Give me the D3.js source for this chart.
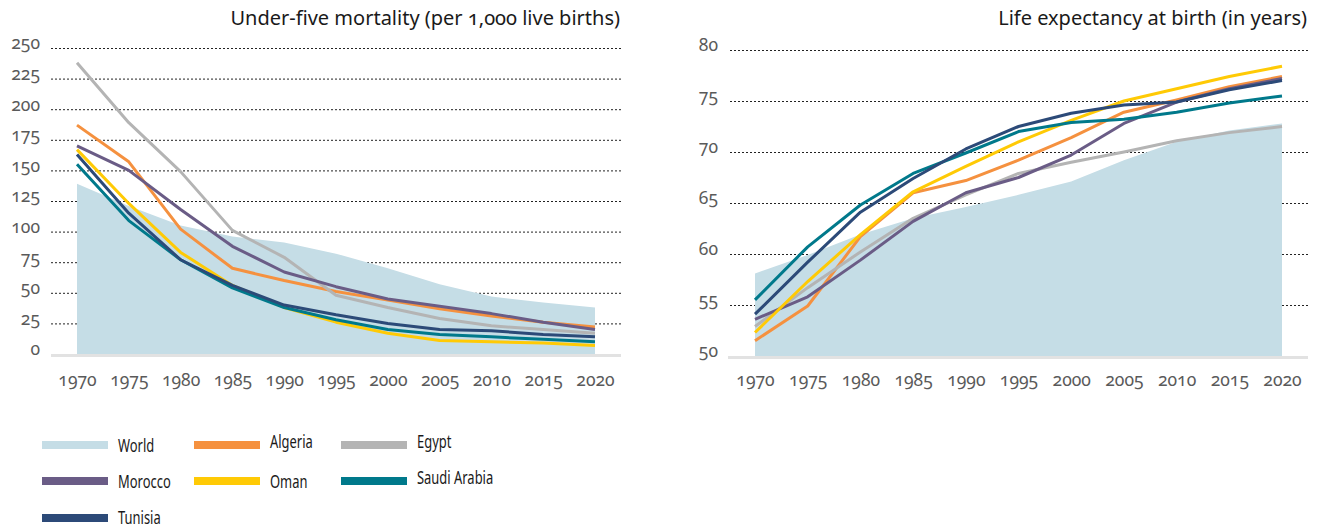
<!DOCTYPE html>
<html>
<head>
<meta charset="utf-8">
<script src="https://cdn.jsdelivr.net/npm/d3@7"></script>
<style>
  body { margin: 0; background: #fff; }
  svg { display: block; font-family: "Noto Sans", "Open Sans", sans-serif; }
  .tick text { fill: #5a5a5a; font-family: "Noto Sans", sans-serif; font-size: 17.5px; font-variant-numeric: oldstyle-nums; font-feature-settings: "onum" 1; }
  .title { fill: #1a1a1a; font-size: 20px; font-variant-numeric: oldstyle-nums; font-feature-settings: "onum" 1; }
  .legend text { fill: #1a1a1a; font-size: 18.5px; font-family: "Noto Sans", sans-serif; }
</style>
</head>
<body>
<div id="chart"></div>
<script>
// years on both panels
const years = [1970, 1975, 1980, 1985, 1990, 1995, 2000, 2005, 2010, 2015, 2020];

// under-five mortality, per 1,000 live births
const u5World   = [139, 121, 105, 96, 91, 82, 70, 57, 47, 42, 38];
const u5Algeria = [187, 157, 102, 70, 60, 51, 44, 37, 31, 26, 22];
const u5Egypt   = [238, 189, 149, 101, 79, 48, 38, 29, 23, 20, 17];
const u5Morocco = [170, 150, 118, 88, 67, 55, 45, 39, 33, 26, 20];
const u5Oman    = [167, 123, 83, 56, 38, 26, 17, 11, 10, 9, 7];
const u5Saudi   = [155, 109, 77, 54, 38, 28, 20, 16, 14, 12, 10];
const u5Tunisia = [163, 115, 77, 56, 40, 32, 25, 20, 19, 16, 14];

// life expectancy at birth, years
const leWorld   = [58.1, 59.9, 61.9, 63.5, 64.6, 65.8, 67.1, 69.2, 71.0, 72.1, 72.8];
const leAlgeria = [51.5, 54.9, 61.7, 66.0, 67.2, 69.2, 71.4, 73.9, 75.1, 76.4, 77.4];
const leEgypt   = [52.9, 56.7, 60.2, 63.5, 65.8, 67.9, 69.0, 70.0, 71.1, 71.9, 72.5];
const leMorocco = [53.6, 55.8, 59.4, 63.2, 66.0, 67.5, 69.7, 72.8, 74.9, 76.2, 77.2];
const leOman    = [52.3, 57.3, 61.9, 66.1, 68.6, 71.0, 73.1, 75.0, 76.2, 77.4, 78.4];
const leSaudi   = [55.5, 60.7, 64.8, 67.9, 69.9, 72.0, 72.9, 73.2, 73.9, 74.8, 75.5];
const leTunisia = [54.1, 59.2, 64.1, 67.4, 70.3, 72.5, 73.8, 74.6, 74.9, 76.1, 77.0];

const u5Ticks = [0, 25, 50, 75, 100, 125, 150, 175, 200, 225, 250];
const leTicks = [50, 55, 60, 65, 70, 75, 80];

const names  = ["Algeria", "Egypt", "Morocco", "Oman", "Saudi Arabia", "Tunisia"];
const colors = {
  "World": "#c5dde6",
  "Algeria": "#f5913f",
  "Egypt": "#b4b4b4",
  "Morocco": "#6a5c86",
  "Oman": "#ffca05",
  "Saudi Arabia": "#00798b",
  "Tunisia": "#2c4a78"
};

const svg = d3.select("#chart").append("svg")
    .attr("width", 1320)
    .attr("height", 529);

function panel(opt) {
  const x = d3.scaleLinear().domain([1970, 2020]).range(opt.xr);
  const y = d3.scaleLinear().domain(opt.yd).range(opt.yr);
  const g = svg.append("g");

  // gridlines + labels
  const yAxis = g.append("g")
      .attr("transform", "translate(" + opt.gx[1] + ",0)")
      .call(d3.axisLeft(y).tickValues(opt.ticks).tickSize(opt.gx[1] - opt.gx[0]).tickPadding(opt.pad));
  yAxis.select(".domain").remove();
  yAxis.selectAll(".tick line")
      .attr("stroke", "#222")
      .attr("stroke-dasharray", "2,2");
  yAxis.selectAll(".tick text").attr("dy", "0.05em");

  // world area
  g.append("path")
      .datum(opt.world)
      .attr("fill", colors["World"])
      .attr("d", d3.area()
          .x((d, i) => x(years[i]))
          .y0(y(opt.yd[0]))
          .y1(d => y(d)));

  // baseline
  g.append("line")
      .attr("x1", opt.gx[0]).attr("x2", opt.gx[1])
      .attr("y1", y(opt.yd[0]) + 1.5).attr("y2", y(opt.yd[0]) + 1.5)
      .attr("stroke", "#e2e2e2")
      .attr("stroke-width", 3);
  yAxis.selectAll(".tick line").filter(d => d === opt.yd[0]).remove();

  const line = d3.line()
      .x((d, i) => x(years[i]))
      .y(d => y(d));

  names.forEach(function(n, k) {
    g.append("path")
        .datum(opt.series[k])
        .attr("fill", "none")
        .attr("stroke", colors[n])
        .attr("stroke-width", 3)
        .attr("stroke-linejoin", "round")
        .attr("d", line);
  });

  const xAxis = g.append("g")
      .attr("transform", "translate(0," + y(opt.yd[0]) + ")")
      .call(d3.axisBottom(x).tickValues(years).tickFormat(d3.format("d")).tickSize(0).tickPadding(opt.xpad));
  xAxis.select(".domain").remove();

  svg.append("text")
      .attr("class", "title")
      .attr("x", opt.gx[1] - 1)
      .attr("y", 25)
      .attr("text-anchor", "end")
      .text(opt.title);
}

panel({
  title: "Under-five mortality (per 1,000 live births)",
  xr: [77, 595], yd: [0, 250], yr: [354, 48],
  gx: [51, 621], pad: 11, xpad: 20,
  ticks: u5Ticks, world: u5World,
  series: [u5Algeria, u5Egypt, u5Morocco, u5Oman, u5Saudi, u5Tunisia]
});

panel({
  title: "Life expectancy at birth (in years)",
  xr: [755, 1282], yd: [50, 80], yr: [356, 50],
  gx: [728, 1308], pad: 10, xpad: 18,
  ticks: leTicks, world: leWorld,
  series: [leAlgeria, leEgypt, leMorocco, leOman, leSaudi, leTunisia]
});

// legend, three columns
const legendNames = ["World"].concat(names);
const legendDy = [7, 3, 3, 7, 7, 3, 6];
const legend = svg.append("g").attr("class", "legend")
  .selectAll("g")
  .data(legendNames)
  .enter().append("g")
    .attr("transform", (d, i) => "translate(" + [42, 194, 341][i % 3] + "," + [445, 481, 518][Math.floor(i / 3)] + ")");

legend.append("rect")
    .attr("x", 0).attr("y", -4)
    .attr("width", 66).attr("height", 8)
    .attr("fill", d => colors[d]);

// narrow face in the original, squeeze horizontally
legend.append("text")
    .attr("transform", (d, i) => "translate(76," + legendDy[i] + ") scale(0.7,1)")
    .text(d => d);
</script>
</body>
</html>
